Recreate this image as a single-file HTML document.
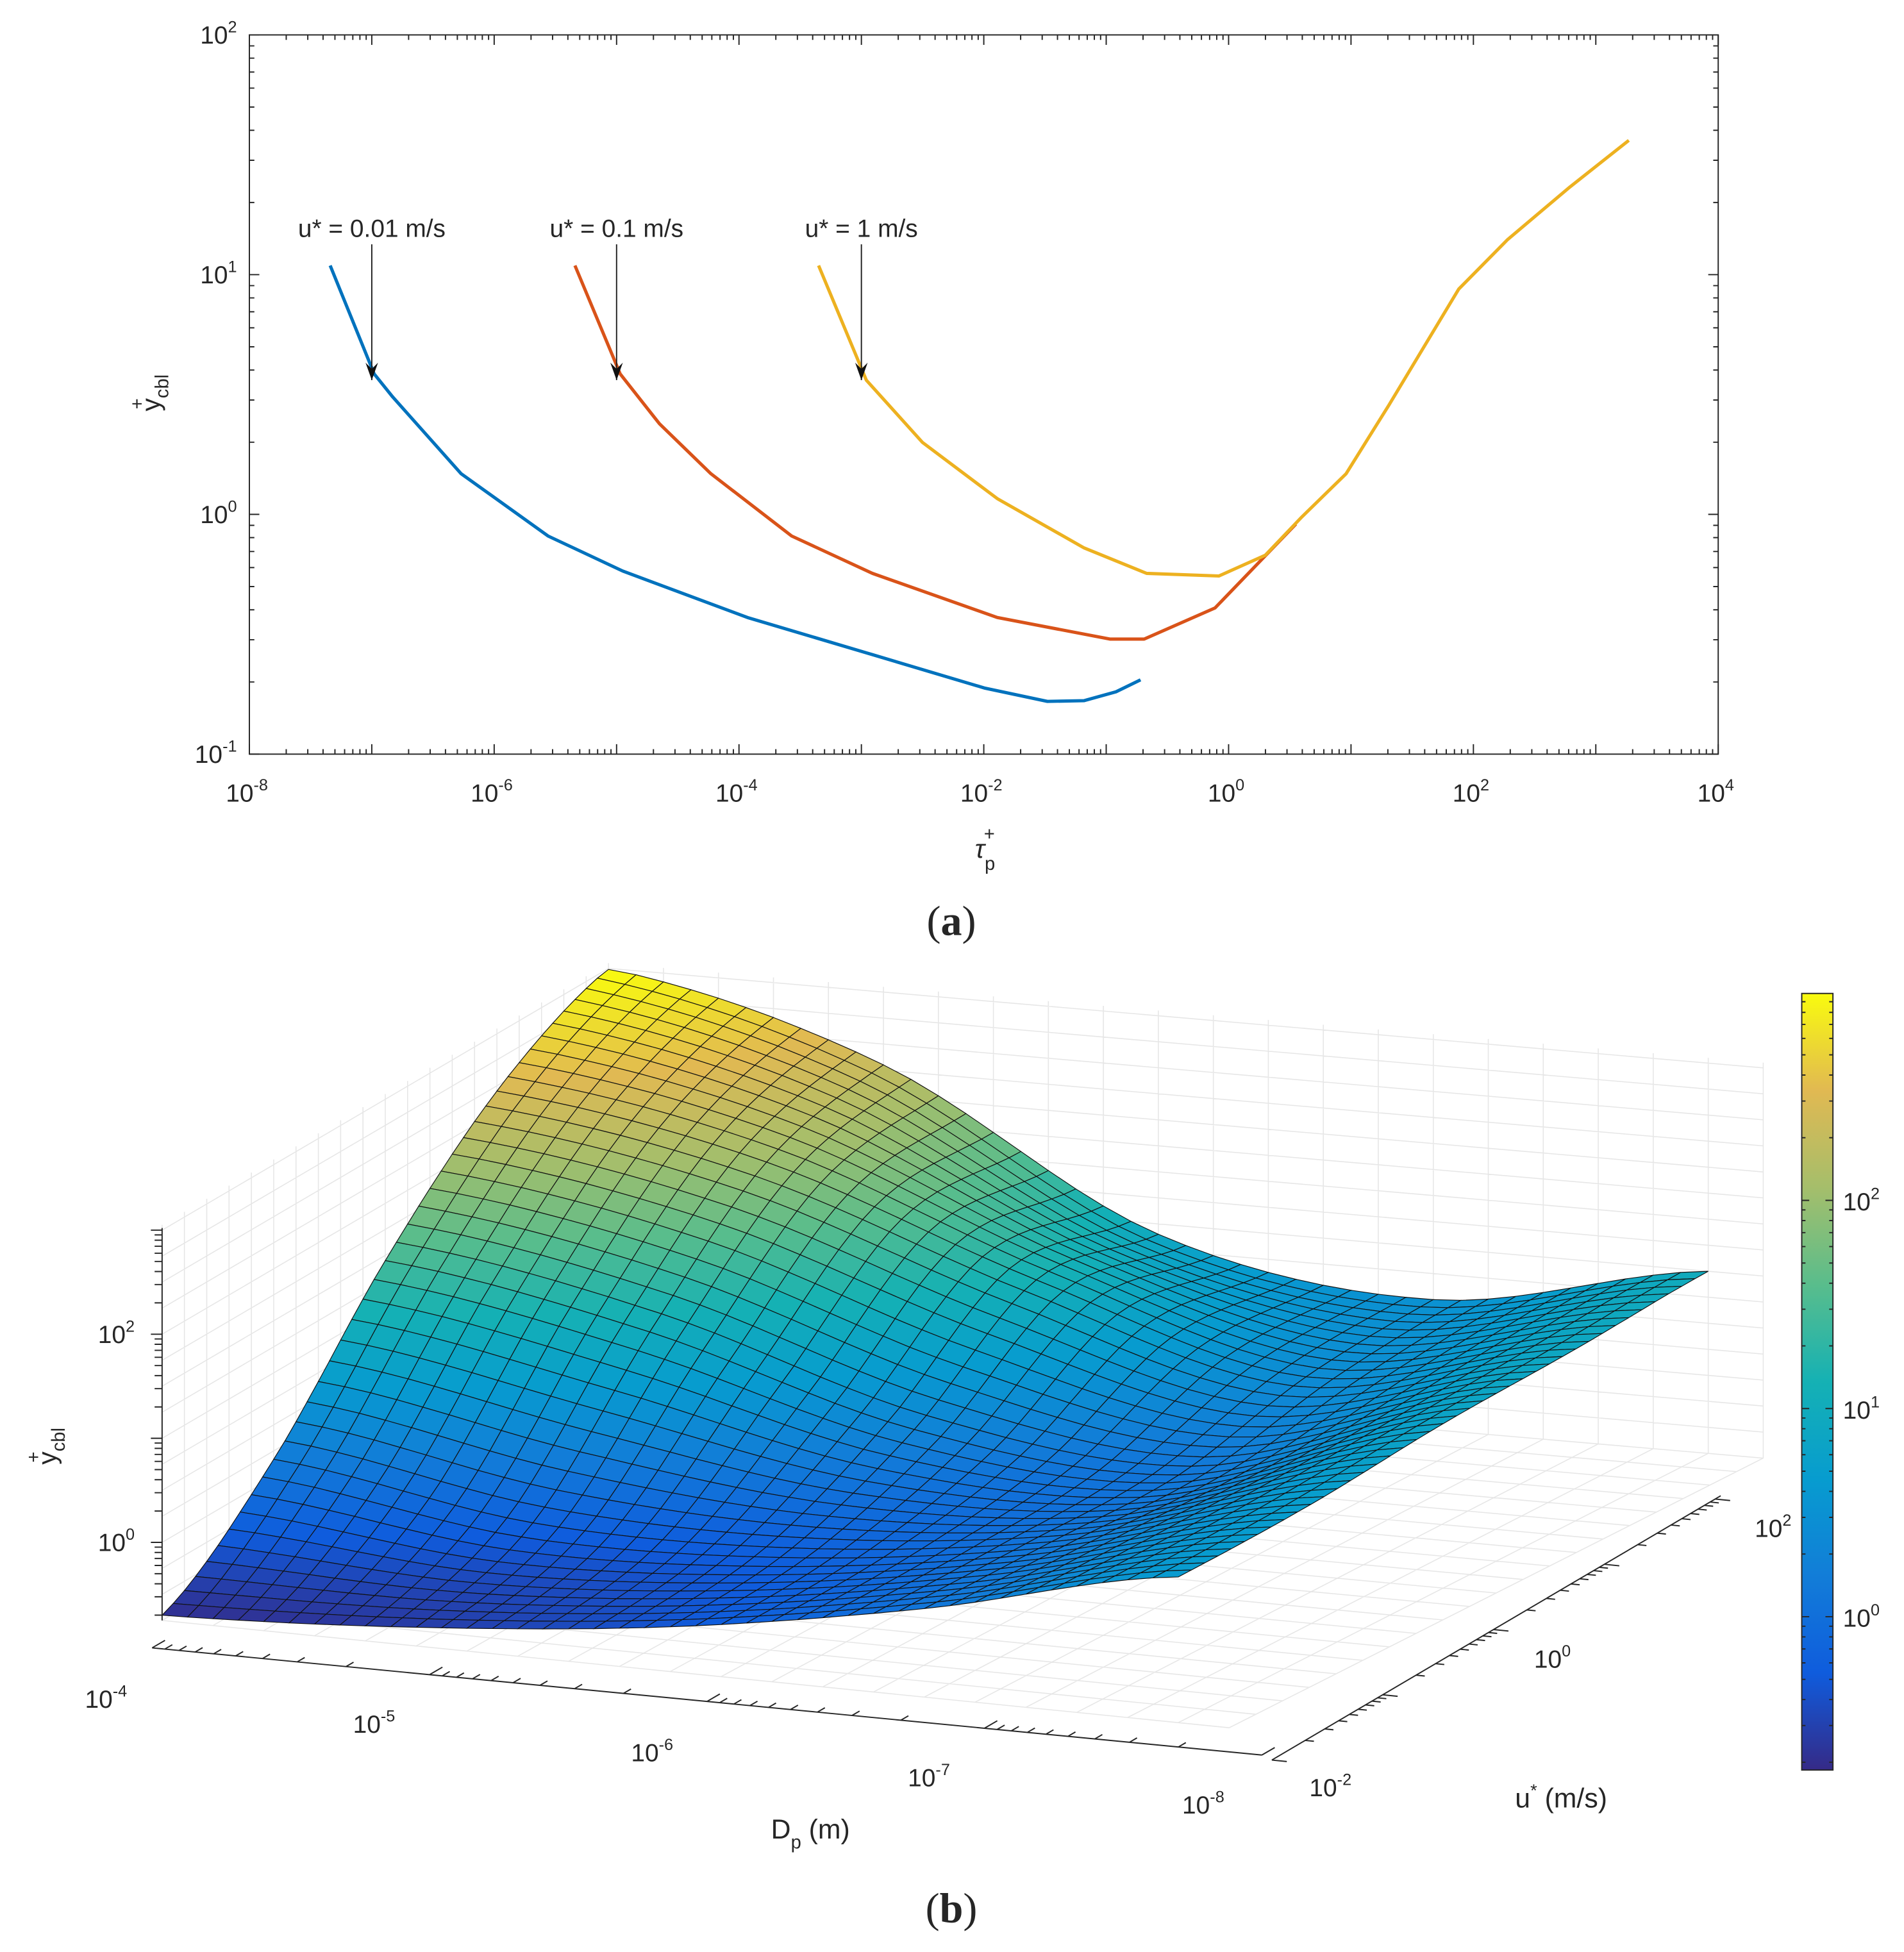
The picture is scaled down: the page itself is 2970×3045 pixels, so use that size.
<!DOCTYPE html>
<html><head><meta charset="utf-8"><style>
html,body{margin:0;padding:0;background:#fff;}
svg{display:block;}
text{font-family:"Liberation Sans",Arial,sans-serif;fill:#262626;}
</style></head><body>
<svg id="fig" width="2970" height="3045" viewBox="0 0 1527 1566" preserveAspectRatio="none" xmlns="http://www.w3.org/2000/svg">
<defs>
<linearGradient id="parula" x1="0" y1="1" x2="0" y2="0">
<stop offset="0" stop-color="#352a87"/><stop offset="0.125" stop-color="#0f5cdd"/><stop offset="0.25" stop-color="#127dd8"/><stop offset="0.375" stop-color="#079ccf"/><stop offset="0.5" stop-color="#15b1b4"/><stop offset="0.625" stop-color="#59bd8c"/><stop offset="0.75" stop-color="#a5be6b"/><stop offset="0.875" stop-color="#e1b952"/><stop offset="1" stop-color="#f9fb0e"/>
</linearGradient>
</defs>
<g id="chartA"></g>
<g id="chartB"></g>
<text x="763" y="750" text-anchor="middle" font-size="34" style="font-family:'Liberation Serif',serif">(<tspan font-weight="bold">a</tspan>)</text>
<text x="763" y="1542" text-anchor="middle" font-size="34" style="font-family:'Liberation Serif',serif">(<tspan font-weight="bold">b</tspan>)</text>
</svg>
<script>
// ---- panel (a) data: log10(tau_p+) and log10(y+_cbl)
const blueLogTau = [-7.34,-6.98,-6.83,-6.27,-5.56,-4.95,-3.93,-2.91,-1.99,-1.48,-1.18,-0.92,-0.72];
const blueLogY   = [1.038,0.586,0.49,0.17,-0.09,-0.236,-0.43,-0.585,-0.725,-0.78,-0.777,-0.74,-0.69];
const redLogTau  = [-5.34,-4.97,-4.65,-4.23,-3.57,-2.91,-1.89,-1.38,-0.97,-0.69,-0.11,0.55];
const redLogY    = [1.038,0.586,0.378,0.17,-0.09,-0.246,-0.43,-0.48,-0.52,-0.52,-0.39,-0.04];
const yelLogTau  = [-3.35,-2.96,-2.5,-1.89,-1.18,-0.67,-0.08,0.3,0.6,0.96,1.31,1.88,2.28,2.79,3.27];
const yelLogY    = [1.038,0.56,0.3,0.066,-0.14,-0.246,-0.257,-0.17,-0.01,0.17,0.456,0.94,1.147,1.366,1.56];
const annotLabels = ["u* = 0.01 m/s","u* = 0.1 m/s","u* = 1 m/s"];
const annotLogTau = [-7,-5,-3];
const xTickExp = [-8,-6,-4,-2,0,2,4];
const yTickExp = [-1,0,1,2];
// ---- panel (b): log10(y+) sampled on grid; rows = u* (1e-2 .. 1e2), cols = Dp (1e-4 .. ~5e-8)
const surfRow0 = [-0.7,-0.57,-0.32,0.1,0.65];
const surfRow1 = [0.17,-0.2,-0.2,0.1,0.7];
const surfRow2 = [1.45,1.0,0.3,0.1,0.83];
const surfRow3 = [2.45,2.0,1.1,0.4,0.9];
const surfRow4 = [3.0,2.3,0.9,0.5,1.0];
const cbTickExp = [0,1,2];

const SVGNS="http://www.w3.org/2000/svg";
function mk(tag,attrs,parent){const e=document.createElementNS(SVGNS,tag);for(const k in attrs)e.setAttribute(k,attrs[k]);parent.appendChild(e);return e;}
function powLabel(parent,x,y,exp,anchor,fs){
  const t=mk('text',{x:x,y:y,'text-anchor':anchor,'font-size':fs},parent);
  
  
  t.appendChild(document.createTextNode('10'));
  const s=mk('tspan',{dy:-fs*0.45,'font-size':fs*0.65},t);s.textContent=String(exp);
  return t;
}
// ================= Panel A =================
const gA=document.getElementById('chartA');
const X0=200,X1=1378,Y0=28,Y1=605;
const xs=v=>X0+(v+8)*(X1-X0)/12;
const ys=v=>Y0+(2-v)*(Y1-Y0)/3;
const boxA=mk('rect',{x:X0,y:Y0,width:X1-X0,height:Y1-Y0,fill:'#fff',stroke:'#262626','stroke-width':1},gA);


let tp='';
for(let d=-8;d<=4;d++){
  const x=xs(d);tp+=`M${x},${Y1}v-8M${x},${Y0}v8`;
  if(d<4)for(let m=2;m<=9;m++){const xm=xs(d+Math.log10(m));tp+=`M${xm},${Y1}v-4M${xm},${Y0}v4`;}
}
for(let d=-1;d<=2;d++){
  const y=ys(d);tp+=`M${X0},${y}h8M${X1},${y}h-8`;
  if(d<2)for(let m=2;m<=9;m++){const ym=ys(d+Math.log10(m));tp+=`M${X0},${ym}h4M${X1},${ym}h-4`;}
}
const ticksA=mk('path',{d:tp,stroke:'#262626','stroke-width':1,fill:'none'},gA);


xTickExp.forEach(e=>powLabel(gA,xs(e)-2,643,e,'middle',20));
yTickExp.forEach(e=>powLabel(gA,X0-10,ys(e)+7,e,'end',20));
const xtA=mk('text',{x:790,y:688,'font-size':21,'text-anchor':'middle','font-style':'italic'},gA);


xtA.innerHTML='τ<tspan dy="10" font-size="15" font-style="normal">p</tspan><tspan dx="-9" dy="-24" font-size="15" font-style="normal">+</tspan>';
const ytA=mk('text',{x:0,y:0,'font-size':21,transform:'translate(128,330) rotate(-90)'},gA);


ytA.innerHTML='y<tspan dy="7" font-size="15">cbl</tspan><tspan dx="-28" dy="-20" font-size="15">+</tspan>';
function series(lx,ly,color,name){
  const d=lx.map((v,i)=>(i?'L':'M')+xs(v).toFixed(1)+','+ys(ly[i]).toFixed(1)).join('');
  const p=mk('path',{d:d,stroke:color,'stroke-width':2.6,fill:'none','stroke-linejoin':'round'},gA);
  
  
}
series(blueLogTau,blueLogY,'#0072bd','line-u-0.01');
series(redLogTau,redLogY,'#d95319','line-u-0.1');
series(yelLogTau,yelLogY,'#edb120','line-u-1');
annotLabels.forEach((lab,i)=>{
  const x=xs(annotLogTau[i]);
  const t=mk('text',{x:x,y:190,'font-size':20,'text-anchor':'middle'},gA);
  
  
  t.textContent=lab;
  const ly=ys(0.56);
  const a=mk('path',{d:`M${x},196V${ly}`,stroke:'#222','stroke-width':1},gA);
  
  
  const h=mk('path',{d:`M${x-5},${ly-14}L${x},${ly}L${x+5},${ly-14}L${x},${ly-9}Z`,fill:'#111'},gA);
  
  
});
// ================= Panel B =================
const gB=document.getElementById('chartB');
const cA=[130,1300],cB=[945,1382],cC=[488,1090],cD=[1370,1166];
const ZMIN=-0.75,ZPX=83.5;
function floorPt(s,b){return [(1-s)*(1-b)*cA[0]+s*(1-b)*cB[0]+(1-s)*b*cC[0]+s*b*cD[0],(1-s)*(1-b)*cA[1]+s*(1-b)*cB[1]+(1-s)*b*cC[1]+s*b*cD[1]];}
function proj(s,b,z){const f=floorPt(s,b);return [f[0],f[1]-(z-ZMIN)*ZPX];}
function pt(p){return p[0].toFixed(1)+','+p[1].toFixed(1);}
let g='';
for(let zz=-0.5;zz<=3;zz+=0.25){g+=`M${pt(proj(0,0,zz))}L${pt(proj(0,1,zz))}L${pt(proj(1.05,1,zz))}`;}
for(let i=0;i<=20;i++){const b=i/20;g+=`M${pt(proj(0,b,ZMIN))}L${pt(proj(0,b,3.05))}`;g+=`M${pt(proj(0,b,ZMIN))}L${pt(proj(1.05,b,ZMIN))}`;}
for(let i=0;i<=21;i++){const s=i/20;g+=`M${pt(proj(s,1,ZMIN))}L${pt(proj(s,1,3.05))}`;g+=`M${pt(proj(s,0,ZMIN))}L${pt(proj(s,1,ZMIN))}`;}
const grid3=mk('path',{d:g,stroke:'#e6e6e6','stroke-width':0.8,fill:'none'},gB);


const surfGrid=[surfRow0,surfRow1,surfRow2,surfRow3,surfRow4];
function cr(p0,p1,p2,p3,t){return 0.5*((2*p1)+(-p0+p2)*t+(2*p0-5*p1+4*p2-p3)*t*t+(-p0+3*p1-3*p2+p3)*t*t*t);}
function rowAt(r,u){const n=r.length-1;const x=u*n;let i=Math.min(n-1,Math.floor(x));const t=x-i;const g=k=>r[Math.max(0,Math.min(n,k))];return cr(g(i-1),g(i),g(i+1),g(i+2),t);}
function zAt(s,b){
  const vals=surfGrid.map(r=>rowAt(r,s));
  return Math.max(-0.74,Math.min(2.99,rowAt(vals,b)));
}
const cstops=[[53,42,135],[15,92,221],[18,125,216],[7,156,207],[21,177,180],[89,189,140],[165,190,107],[225,185,82],[249,251,14]];
function cmap(z){let t=(z+0.74)/3.73;t=Math.max(0,Math.min(1,t))*8;const i=Math.min(7,Math.floor(t)),f=t-i;const c=cstops[i].map((v,k)=>Math.round(v+(cstops[i+1][k]-v)*f));return 'rgb('+c.join(',')+')';}
const NN=40,MM=40;
const ZG=[];for(let j=0;j<=MM;j++){ZG.push([]);for(let i=0;i<=NN;i++)ZG[j].push(zAt(i/NN,j/MM));}
const surf=mk('g',{},gB);


for(let j=MM-1;j>=0;j--){for(let i=0;i<NN;i++){
  const s0=i/NN,s1=(i+1)/NN,b0=j/MM,b1=(j+1)/MM;
  const pts=[proj(s0,b0,ZG[j][i]),proj(s1,b0,ZG[j][i+1]),proj(s1,b1,ZG[j+1][i+1]),proj(s0,b1,ZG[j+1][i])];
  const zm=(ZG[j][i]+ZG[j][i+1]+ZG[j+1][i]+ZG[j+1][i+1])/4;
  const q=mk('polygon',{points:pts.map(pt).join(' '),fill:cmap(zm),stroke:'#111','stroke-width':0.6},surf);
  
  
}}
let za=`M130,${proj(0,0,3.02)[1]}V1300`;
for(let d=-1;d<=3;d++){for(let m=1;m<=9;m++){const z=d+Math.log10(m);if(z<ZMIN||z>3.02)continue;const y=1300-(z-ZMIN)*ZPX;za+=`M130,${y}h${m==1?-9:-6}`;}}
const zax=mk('path',{d:za,stroke:'#262626','stroke-width':1,fill:'none'},gB);


[0,2].forEach(e=>powLabel(gB,108,1300-(e-ZMIN)*ZPX+7,e,'end',20));
const zt=mk('text',{x:0,y:0,'font-size':21,transform:'translate(45,1175) rotate(-90)'},gB);


zt.innerHTML='y<tspan dy="7" font-size="15">cbl</tspan><tspan dx="-28" dy="-20" font-size="15">+</tspan>';
const DA=[122,1322],DB=[1012,1408];
let da=`M${DA[0]},${DA[1]}L${DB[0]},${DB[1]}`;
for(let d=4;d<=8;d++){for(let m=1;m<=9;m++){const v=d-Math.log10(m);if(v<4||v>8)continue;const t=(v-4)/4;const x=DA[0]+t*(DB[0]-DA[0]),y=DA[1]+t*(DB[1]-DA[1]);const L=m==1?12:7;da+=`M${x},${y}l${L*0.86},${-L*0.5}`;}}
const dax=mk('path',{d:da,stroke:'#262626','stroke-width':1,fill:'none'},gB);


[[-4,85,1370],[-5,300,1390],[-6,523,1413],[-7,745,1433],[-8,965,1455]].forEach(a=>powLabel(gB,a[1],a[2],a[0],'middle',20));
const dt=mk('text',{x:650,y:1475,'font-size':22,'text-anchor':'middle'},gB);


dt.innerHTML='D<tspan dy="8" font-size="15">p</tspan><tspan dy="-8"> (m)</tspan>';
const UA=[1020,1412],UB=[1380,1200];
let ua=`M${UA[0]},${UA[1]}L${UB[0]},${UB[1]}`;
for(let d=-2;d<=2;d++){for(let m=1;m<=9;m++){const v=d+Math.log10(m);if(v>2.05)continue;const t=(v+2)/4.05;const x=UA[0]+t*(UB[0]-UA[0]),y=UA[1]+t*(UB[1]-UA[1]);const L=m==1?12:7;ua+=`M${x},${y}l${L},${L*0.1}`;}}
const uax=mk('path',{d:ua,stroke:'#262626','stroke-width':1,fill:'none'},gB);


[[-2,1067,1441],[0,1245,1338],[2,1422,1233]].forEach(a=>powLabel(gB,a[1],a[2],a[0],'middle',20));
const ut=mk('text',{x:1252,y:1450,'font-size':22,'text-anchor':'middle'},gB);


ut.innerHTML='u<tspan dy="-9" font-size="14">*</tspan><tspan dy="9"> (m/s)</tspan>';
const cb=mk('rect',{x:1445,y:797,width:25,height:623,fill:'url(#parula)',stroke:'#262626','stroke-width':1},gB);


let ct='';
for(let d=-1;d<=2;d++)for(let m=1;m<=9;m++){const z=d+Math.log10(m);if(z<-0.74||z>2.99)continue;const y=1297-z*167;const L=m==1?6:3;ct+=`M1445,${y}h${L}M1470,${y}h${-L}`;}
const cbt=mk('path',{d:ct,stroke:'#262626','stroke-width':1},gB);


cbTickExp.forEach(e=>powLabel(gB,1478,1297-e*167+8,e,'start',20));
</script>
</body></html>
